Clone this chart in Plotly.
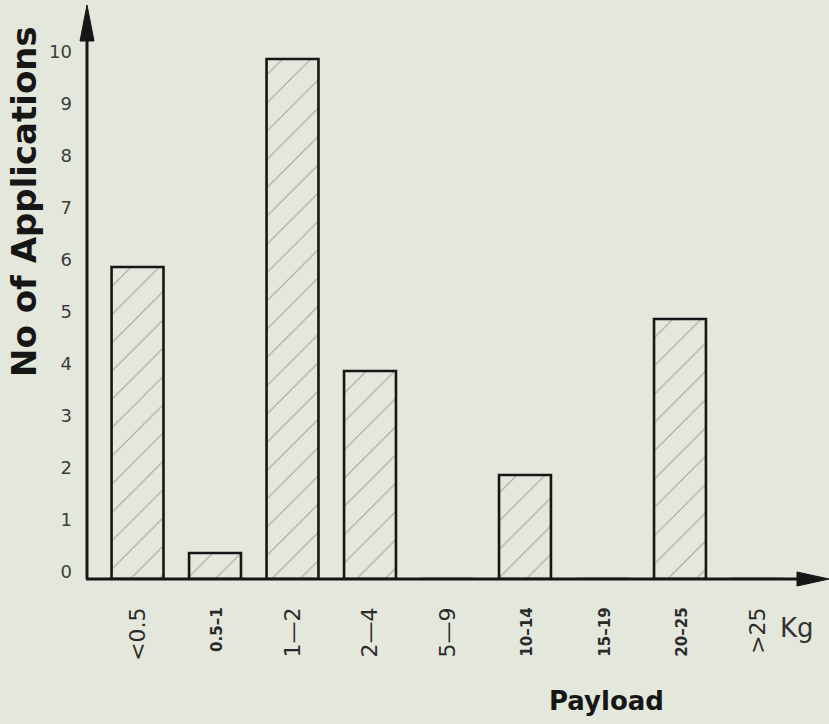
import plotly.graph_objects as go

categories = ["<0.5", "0.5–1", "1—2", "2—4", "5—9", "10–14", "15–19", "20–25", ">25"]
values = [6, 0.5, 10, 4, 0, 2, 0, 5, 0]
small = [False, True, False, False, False, True, True, True, False]
y_ticks = list(range(0, 11))

BG = "#e4e7db"
INK = "#161616"

W, H = 829, 724
L, R, T, B = 87, 0, 0, 145
PW, PH = W - L - R, H - T - B


def px(x):
    return (x - L) / PW


def py(y):
    return (H - B - y) / PH


ticktext = [
    f"<b><span style='font-size:15px'>{c}</span></b>" if s else c
    for c, s in zip(categories, small)
]

fig = go.Figure()
fig.add_trace(go.Bar(
    x=list(range(len(categories))),
    y=values,
    width=0.67,
    marker=dict(
        color=BG,
        line=dict(color=INK, width=2.6),
        pattern=dict(shape="/", fgcolor="#5a5a5a", bgcolor=BG, size=20, solidity=0.05),
    ),
    showlegend=False,
    hoverinfo="skip",
))

fig.update_layout(
    width=W, height=H,
    margin=dict(l=L, r=R, t=T, b=B, pad=0),
    paper_bgcolor=BG, plot_bgcolor=BG,
    font=dict(family="DejaVu Sans", color=INK),
    xaxis=dict(
        range=[-0.652, 8.923],
        tickvals=list(range(len(categories))),
        ticktext=ticktext,
        tickangle=-90,
        tickfont=dict(size=22, color="#2a2a2a"),
        showgrid=False, zeroline=False, showline=False,
        ticks="", ticklabelstandoff=23,
    ),
    yaxis=dict(
        range=[0, PH / 52.0],
        tickvals=[v + 0.15 for v in y_ticks],
        ticktext=[str(v) for v in y_ticks],
        tickfont=dict(size=18, color="#3c3c3c"),
        showgrid=False, zeroline=False, showline=False,
        ticks="", ticklabelstandoff=14,
    ),
    shapes=[
        # y axis line + arrowhead
        dict(type="line", xref="paper", yref="paper", x0=px(87), x1=px(87), y0=py(579), y1=py(36),
             line=dict(color=INK, width=3)),
        dict(type="path", xref="paper", yref="paper",
             path=f"M {px(87)},{py(5)} L {px(80)},{py(41)} L {px(94)},{py(41)} Z",
             fillcolor=INK, line=dict(color=INK, width=1)),
        # x axis line + arrowhead
        dict(type="line", xref="paper", yref="paper", x0=px(86), x1=px(800), y0=py(579), y1=py(579),
             line=dict(color=INK, width=3)),
        dict(type="path", xref="paper", yref="paper",
             path=f"M {px(829)},{py(579)} L {px(797)},{py(572)} L {px(797)},{py(586)} Z",
             fillcolor=INK, line=dict(color=INK, width=1)),
    ],
    annotations=[
        dict(x=px(24), y=py(202), xref="paper", yref="paper", text="<b>No of Applications</b>",
             showarrow=False, textangle=-90, font=dict(size=34, color=INK),
             xanchor="center", yanchor="middle"),
        dict(x=px(797), y=py(628), xref="paper", yref="paper", text="Kg", showarrow=False,
             font=dict(size=26, color="#333333"), xanchor="center", yanchor="middle"),
        dict(x=px(606), y=py(701), xref="paper", yref="paper", text="<b>Payload</b>",
             showarrow=False, font=dict(size=26, color=INK), xanchor="center", yanchor="middle"),
    ],
)

fig.write_html(
    "out.html",
    config={"displayModeBar": False},
    post_script="document.body.style.margin='0px';document.body.style.overflow='hidden';"
                "document.body.style.background='" + BG + "';",
)
